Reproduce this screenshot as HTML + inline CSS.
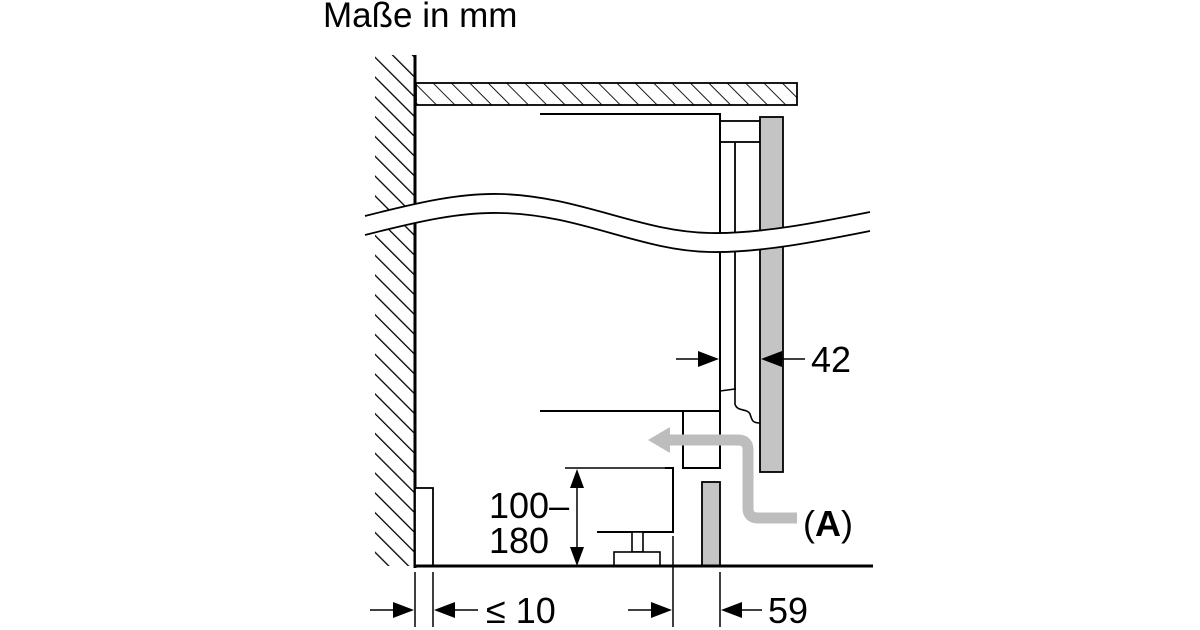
<!DOCTYPE html>
<html><head><meta charset="utf-8"><style>
html,body{margin:0;padding:0;background:#fff;width:1200px;height:630px;overflow:hidden}
svg{display:block}
text{font-family:"Liberation Sans",Arial,sans-serif;fill:#000}
</style></head><body>
<svg width="1200" height="630" viewBox="0 0 1200 630" xmlns="http://www.w3.org/2000/svg">
<defs>
<pattern id="h" width="14" height="14" patternUnits="userSpaceOnUse" patternTransform="rotate(-45)">
<line x1="0" y1="0" x2="0" y2="14" stroke="#000" stroke-width="2.6"/>
</pattern>
<pattern id="h2" width="13" height="13" patternUnits="userSpaceOnUse" patternTransform="rotate(-45)">
<line x1="0" y1="0" x2="0" y2="13" stroke="#000" stroke-width="1.8"/>
</pattern>
</defs>
<text x="323" y="27" font-size="35">Maße in mm</text>
<rect x="375" y="55" width="40" height="511" fill="url(#h)"/>
<line x1="415" y1="55" x2="415" y2="568" stroke="#000" stroke-width="3"/>
<rect x="416" y="83" width="381" height="22" fill="url(#h2)" stroke="#000" stroke-width="1.8"/>
<polyline points="540,114 720,114 720,392" fill="none" stroke="#000" stroke-width="2"/>
<rect x="720" y="121" width="40" height="21" fill="none" stroke="#000" stroke-width="1.8"/>
<line x1="735" y1="142" x2="735" y2="390" stroke="#000" stroke-width="1.8"/>
<rect x="760" y="117" width="23" height="355" fill="#c4c4c4" stroke="#000" stroke-width="1.8"/>
<path d="M720,391 L735,389 L735,404 C737,412 747,408 750,414 C752,420 752,423 760,423" fill="none" stroke="#000" stroke-width="1.6"/>
<path d="M365,216 C420,202 460,193 500,194 C580,196 640,232 710,233 C760,234 820,222 870,212 L870,231 C820,241 760,253 710,252 C640,251 580,214 500,213 C460,212 420,221 365,235 Z" fill="#fff"/>
<path d="M365,216 C420,202 460,193 500,194 C580,196 640,232 710,233 C760,234 820,222 870,212" fill="none" stroke="#000" stroke-width="1.8"/>
<path d="M365,235 C420,221 460,212 500,213 C580,214 640,251 710,252 C760,253 820,241 870,231" fill="none" stroke="#000" stroke-width="1.8"/>
<polyline points="540,411 720,411 720,392" fill="none" stroke="#000" stroke-width="2"/>
<polyline points="683,411 683,468 720,468 720,411" fill="none" stroke="#000" stroke-width="2"/>
<polyline points="665,468 673,468 673,532 597,532" fill="none" stroke="#000" stroke-width="2"/>
<line x1="565" y1="468" x2="665" y2="468" stroke="#000" stroke-width="1.5"/>
<rect x="632" y="532" width="11" height="20" fill="#fff" stroke="#000" stroke-width="1.6"/>
<rect x="614" y="552" width="46" height="14" fill="#fff" stroke="#000" stroke-width="1.6"/>
<rect x="415" y="488" width="18" height="78" fill="#fff" stroke="#000" stroke-width="1.8"/>
<rect x="702" y="482" width="18" height="84" fill="#c4c4c4" stroke="#000" stroke-width="1.8"/>
<line x1="414" y1="566" x2="873" y2="566" stroke="#000" stroke-width="3"/>
<path d="M797,518 L758,518 Q748,518 748,508 L748,450 Q748,440 738,440 L668,440" fill="none" stroke="#bdbdbd" stroke-width="11"/>
<polygon points="648,440 670,427 670,453" fill="#bdbdbd"/>
<text x="803" y="536" font-size="36">(<tspan font-weight="bold">A</tspan>)</text>
<line x1="577" y1="472" x2="577" y2="562" stroke="#000" stroke-width="1.5"/>
<polygon points="577,469 570,488 584,488"/>
<polygon points="577,566 570,547 584,547"/>
<text x="489" y="518" font-size="36">100–</text>
<text x="489" y="553" font-size="36">180</text>
<line x1="676" y1="359" x2="706" y2="359" stroke="#000" stroke-width="1.5"/>
<polygon points="719,359 698,351 698,367"/>
<line x1="775" y1="359" x2="805" y2="359" stroke="#000" stroke-width="1.5"/>
<polygon points="761,359 782,351 782,367"/>
<text x="811" y="372" font-size="36">42</text>
<g stroke="#000" stroke-width="1.5">
<line x1="415" y1="572" x2="415" y2="627"/>
<line x1="433" y1="572" x2="433" y2="627"/>
<line x1="673" y1="536" x2="673" y2="627"/>
<line x1="720" y1="572" x2="720" y2="627"/>
<line x1="370" y1="610" x2="400" y2="610"/>
<line x1="448" y1="610" x2="478" y2="610"/>
<line x1="628" y1="610" x2="658" y2="610"/>
<line x1="735" y1="610" x2="762" y2="610"/>
</g>
<polygon points="414,610 393,602 393,618"/>
<polygon points="434,610 455,602 455,618"/>
<polygon points="672,610 651,602 651,618"/>
<polygon points="721,610 742,602 742,618"/>
<text x="486" y="623" font-size="36">≤ 10</text>
<text x="768" y="623" font-size="36">59</text>
</svg>
</body></html>
